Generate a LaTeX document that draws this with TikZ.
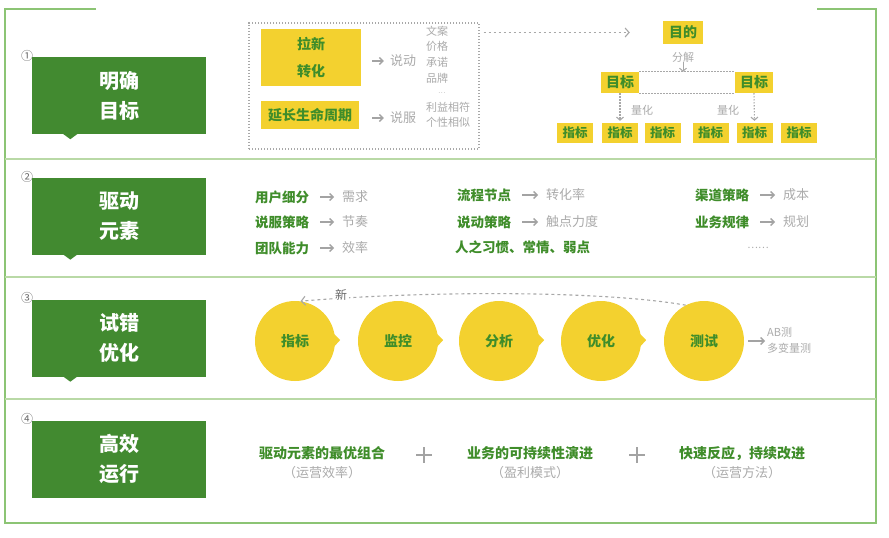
\documentclass[tikz,border=0pt]{standalone}
\usepackage{fontspec}
\newfontfamily\cjk{Noto Sans CJK SC}
\usetikzlibrary{arrows.meta,backgrounds,calc}
\definecolor{dgreen}{HTML}{428A30}
\definecolor{framec}{HTML}{8CC474}
\definecolor{sepc}{HTML}{B9D9A6}
\definecolor{yel}{HTML}{F3D12F}
\definecolor{tgreen}{HTML}{3F8D2A}
\definecolor{lgray}{HTML}{ABABAB}
\definecolor{agray}{HTML}{A3A3A3}
\definecolor{ngray}{HTML}{6A6A6A}
\definecolor{dotc}{HTML}{A8A8A8}
\newcommand\myfs[2]{\fontsize{#1}{#2}\selectfont}
\tikzset{
  gbox/.style={fill=dgreen, minimum width=174pt, minimum height=77pt, inner sep=0pt,
    text=white, align=center, font=\cjk\myfs{20}{30}\bfseries},
  ybox/.style={fill=yel, text=tgreen, inner sep=0pt, align=center, font=\cjk\myfs{14}{27}\bfseries},
  smallybox/.style={ybox, font=\cjk\myfs{12.5}{15}\bfseries, minimum width=36pt, minimum height=20pt},
  grayt/.style={text=lgray, inner sep=0pt, font=\cjk\myfs{11}{15.5}},
  keyt/.style={text=tgreen, inner sep=0pt, anchor=west, font=\cjk\myfs{13.5}{16}\bfseries},
  valt/.style={text=lgray, inner sep=0pt, anchor=west, font=\cjk\myfs{13}{16}},
  garrow/.style={draw=agray, line width=1.3pt, -{Straight Barb[length=3.5pt,width=7pt]}},
  dotarrow/.style={draw=dotc, line width=1.1pt, dash pattern=on 1.3pt off 1.7pt, -{Straight Barb[length=3pt,width=7pt]}},
  dasharrow/.style={draw=dotc, line width=1.1pt, dash pattern=on 3pt off 3pt, -{Straight Barb[length=4pt,width=9pt]}},
  dotline/.style={draw=dotc, line width=1.1pt, dash pattern=on 1.3pt off 1.7pt},
  circ/.style={circle, fill=yel, minimum size=80pt, inner sep=0pt, text=tgreen, font=\cjk\myfs{14}{16}\bfseries},
  numt/.style={text=ngray, inner sep=0pt, font=\cjk\myfs{12}{12}},
  framel/.style={draw=framec, line width=1.6pt},
  sepl/.style={draw=sepc, line width=1.6pt},
  plusl/.style={draw=agray, line width=1.2pt},
}
\begin{document}
\begin{tikzpicture}[x=1pt,y=-1pt]
\useasboundingbox (0,0) rectangle (889,538);
\fill[white] (0,0) rectangle (889,538);
% frame
\draw[framel] (96,9) -- (5,9) -- (5,523) -- (876,523) -- (876,9) -- (817,9);
\draw[sepl] (5,159) -- (876,159);
\draw[sepl] (5,277) -- (876,277);
\draw[sepl] (5,399) -- (876,399);

% green boxes
\node[gbox] (g1) at (119,95.5) {明确\\目标};
\node[gbox] (g2) at (119,216) {驱动\\元素};
\node[gbox] (g3) at (119,338) {试错\\优化};
\node[gbox] (g4) at (119,459) {高效\\运行};
\foreach \g in {g1,g2,g3}{
  \fill[dgreen] ($(\g.south west)+(31,-0.5)$) -- ++(15,0) -- ++(-7.5,5.5) -- cycle;
}
\node[numt] (n1) at (27,56) {①};
\node[numt] (n2) at (27,177) {②};
\node[numt] (n3) at (27,298) {③};
\node[numt] (n4) at (27,419) {④};

% section 1
\node[dotline, minimum width=230pt, minimum height=126pt, inner sep=0pt] (dbox) at (364,86) {};
\node[ybox, minimum width=100pt, minimum height=57pt] (yb1) at (311,57.5) {拉新\\转化};
\node[ybox, minimum width=98pt, minimum height=28pt] (yb2) at (310,115) {延长生命周期};
\node[grayt, font=\cjk\myfs{13}{15}] (sd) at (403,61) {说动};
\node[grayt, font=\cjk\myfs{13}{15}] (sf) at (403,118) {说服};
\draw[garrow, shorten <=11pt, shorten >=6pt] (yb1.east |- sd.west) -- (sd.west);
\draw[garrow, shorten <=13pt, shorten >=6pt] (yb2.east |- sf.west) -- (sf.west);
\node[grayt, anchor=west] (w1) at (426,31) {文案};
\node[grayt, anchor=west] (w2) at (426,46) {价格};
\node[grayt, anchor=west] (w3) at (426,62) {承诺};
\node[grayt, anchor=west] (w4) at (426,78) {品牌};
\node[grayt, font=\myfs{9}{9}] (w5) at (442,93) {...};
\node[grayt, anchor=west] (w6) at (426,107) {利益相符};
\node[grayt, anchor=west] (w7) at (426,122) {个性相似};

% tree
\node[ybox, minimum width=40pt, minimum height=23pt] (mudi) at (683,32.5) {目的};
\draw[dasharrow, dash pattern=on 2.5pt off 2.5pt] ($(dbox.east |- mudi.west)+(4,0)$) -- ($(mudi.west)+(-33,0)$);
\node[grayt] (fj) at (683,57) {分解};
\node[ybox, minimum width=38pt, minimum height=21pt] (mb1) at (620,82.5) {目标};
\node[ybox, minimum width=38pt, minimum height=21pt] (mb2) at (754,82.5) {目标};
\draw[dotline] (mb1.north east) -- (mb2.north west);
\draw[dotline] (mb1.south east) -- (mb2.south west);
\draw[draw=dotc, line width=1pt, -{Straight Barb[length=3pt,width=7pt]}] (fj.south) -- (fj.south |- mb1.north);
\node[smallybox] (z1) at (575,133) {指标};
\node[smallybox] (z2) at (620,133) {指标};
\node[smallybox] (z3) at (662.5,133) {指标};
\node[smallybox] (z4) at (710.5,133) {指标};
\node[smallybox] (z5) at (754.5,133) {指标};
\node[smallybox] (z6) at (799,133) {指标};
\begin{scope}[on background layer]
\draw[dotline] ($(z1.north west)+(0,-1)$) -- ($(z3.north east)+(0,-1)$);
\draw[dotline] (z1.south west) -- (z3.south east);
\draw[dotline] ($(z4.north west)+(0,-1)$) -- ($(z6.north east)+(0,-1)$);
\draw[dotline] (z4.south west) -- (z6.south east);
\end{scope}
\draw[dotarrow] (mb1.south) -- ($(z2.north)+(0,-2)$);
\draw[dotarrow] (mb2.south) -- ($(z5.north)+(0,-2)$);
\node[grayt] (lh1) at (642,110) {量化};
\node[grayt] (lh2) at (728,110) {量化};

% section 2
\node[keyt] (k1) at (255,197) {用户细分};
\node[keyt] (k2) at (255,222) {说服策略};
\node[keyt] (k3) at (255,248) {团队能力};
\node[valt] (v1) at (342,197) {需求};
\node[valt] (v2) at (342,222) {节奏};
\node[valt] (v3) at (342,248) {效率};
\node[keyt] (k4) at (457,195) {流程节点};
\node[keyt] (k5) at (457,222) {说动策略};
\node[keyt] (k6) at (455,247) {人之习惯、常情、弱点};
\node[valt] (v4) at (546,195) {转化率};
\node[valt] (v5) at (546,222) {触点力度};
\node[keyt] (k7) at (695,195) {渠道策略};
\node[keyt] (k8) at (695,222) {业务规律};
\node[valt] (v7) at (783,195) {成本};
\node[valt] (v8) at (783,222) {规划};
\node[text=lgray, inner sep=0pt, font=\cjk\myfs{10}{10}] (dots) at (758,248) {……};
\foreach \a/\b in {k1/v1,k2/v2,k3/v3,k4/v4,k5/v5,k7/v7,k8/v8}{
  \draw[garrow, shorten <=11pt, shorten >=8pt] (\a.east) -- (\b.west);
}

% section 3
\node[circ] (c1) at (295,341) {指标};
\node[circ] (c2) at (398,341) {监控};
\node[circ] (c3) at (499,341) {分析};
\node[circ] (c4) at (601,341) {优化};
\node[circ] (c5) at (704,341) {测试};
\foreach \c in {c1,c2,c3,c4}{
  \fill[yel] ($(\c.east)+(-6,-12)$) -- ($(\c.east)+(5,-1)$) -- ($(\c.east)+(-6,11)$) -- cycle;
}
\draw[dasharrow]
  (c5.117) .. controls (600,290) and (420,291) .. (c1.82);
\node[fill=white, inner sep=2pt, text=ngray, font=\cjk\myfs{12}{12}] (xin) at (341,295) {新};
\node[grayt, anchor=west, align=left, font=\cjk\myfs{11}{16}] (ab) at (767,340) {AB测\\多变量测};
\draw[garrow, shorten <=4pt, shorten >=2pt] (c5.east) -- (c5.east -| ab.west);

% section 4
\node[text=tgreen, inner sep=0pt, font=\cjk\myfs{14}{16}\bfseries] (t1) at (322,453) {驱动元素的最优组合};
\node[text=lgray, inner sep=0pt, font=\cjk\myfs{13}{16}] (s1) at (322,473) {（运营效率）};
\node[text=tgreen, inner sep=0pt, font=\cjk\myfs{14}{16}\bfseries] (t2) at (530,453) {业务的可持续性演进};
\node[text=lgray, inner sep=0pt, font=\cjk\myfs{13}{16}] (s2) at (530,473) {（盈利模式）};
\node[text=tgreen, inner sep=0pt, font=\cjk\myfs{14}{16}\bfseries] (t3) at (742,453) {快速反应，持续改进};
\node[text=lgray, inner sep=0pt, font=\cjk\myfs{13}{16}] (s3) at (742,473) {（运营方法）};
\coordinate (p1) at (424,455);
\coordinate (p2) at (637,455);
\foreach \p in {p1,p2}{
  \draw[plusl] ($(\p)+(-8,0)$) -- ($(\p)+(8,0)$);
  \draw[plusl] ($(\p)+(0,-8)$) -- ($(\p)+(0,8)$);
}
\end{tikzpicture}
\end{document}
